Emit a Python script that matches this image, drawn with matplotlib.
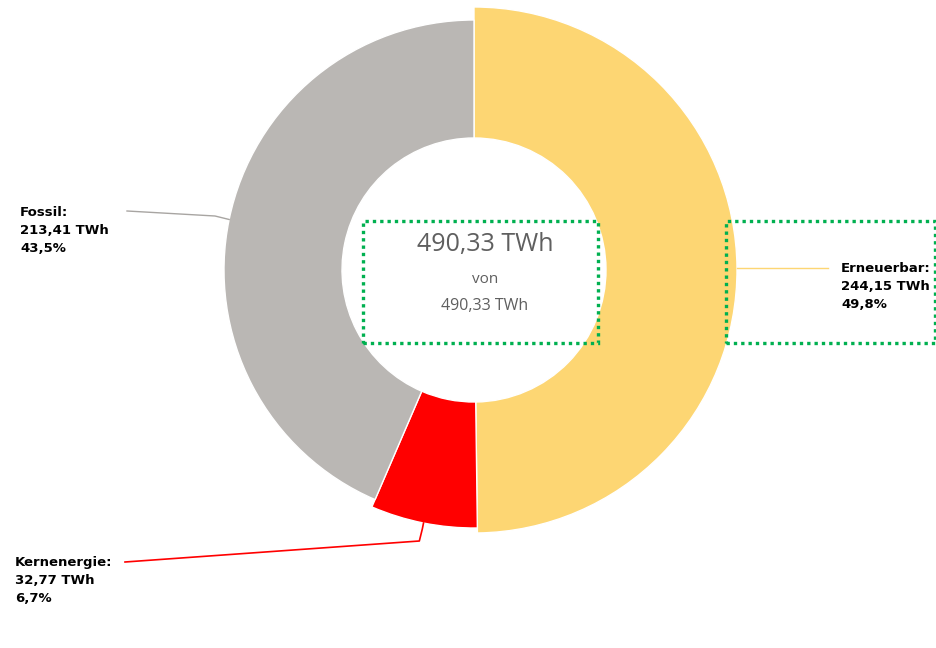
import numpy as np
import matplotlib.pyplot as plt
from matplotlib.patches import Rectangle

# Datos
categorias = ["Erneuerbar", "Kernenergie", "Fossil"]
valores = [244.15, 32.77, 213.41]
colores = ["#FDD673", "#FF0000", "#BAB7B4"]
radios = [263, 258, 250]   # segmento seleccionado mas grande
total = sum(valores)

W, H = 937, 648
fig = plt.figure(figsize=(W / 100, H / 100), dpi=100)
ax = fig.add_axes([0, 0, 1, 1])

cx, cy = 474, H - 270
r_in = 132

wedges, _ = ax.pie(valores, colors=colores, startangle=90, counterclock=False,
                   radius=max(radios), center=(cx, cy), frame=True,
                   wedgeprops=dict(width=max(radios) - r_in, edgecolor="white", linewidth=1))
ax.set_xlim(0, W)
ax.set_ylim(0, H)
ax.set_aspect("equal")
ax.axis("off")
for w, r in zip(wedges, radios):
    w.set_radius(r)
    w.set_width(r - r_in)

def punto(i, r):
    ang = np.deg2rad((wedges[i].theta1 + wedges[i].theta2) / 2)
    return cx + r * np.cos(ang), cy + r * np.sin(ang)

fmt = lambda v: f"{v:,.2f}".replace(",", "X").replace(".", ",").replace("X", ".")
pct = lambda v: f"{v / total * 100:.1f}".replace(".", ",") + "%"

estilo = dict(ha="left", va="top", fontsize=9.5, fontweight="bold", color="black", linespacing=1.5)

# Erneuerbar
x0, y0 = punto(0, radios[0])
ax.plot([x0, 828], [y0, y0], color=colores[0], lw=1)
ax.text(841, H - 262, f"{categorias[0]}:\n{fmt(valores[0])} TWh\n{pct(valores[0])}", **estilo)

# Kernenergie
x0, y0 = punto(1, radios[1])
x1, y1 = punto(1, radios[1] + 6)
ax.plot([x0, x1, x1 - 3, 125], [y0, y1, H - 541, H - 562], color=colores[1], lw=1.2)
ax.text(15, H - 556, f"{categorias[1]}:\n{fmt(valores[1])} TWh\n{pct(valores[1])}", **estilo)

# Fossil
x0, y0 = punto(2, radios[2])
ax.plot([x0, 215, 127], [y0, H - 216, H - 211], color="#A8A5A2", lw=1)
ax.text(20, H - 206, f"{categorias[2]}:\n{fmt(valores[2])} TWh\n{pct(valores[2])}", **estilo)

# Texto central
ax.text(485, H - 245, f"{fmt(total)} TWh", ha="center", va="center",
        fontsize=18, color="#5F5F5F", family="Open Sans")
ax.text(485, H - 280, "von", ha="center", va="center", fontsize=11, color="#5F5F5F", family="Open Sans")
ax.text(485, H - 306, f"{fmt(total)} TWh", ha="center", va="center",
        fontsize=11.5, color="#5F5F5F", family="Open Sans")

# Marcos punteados verdes
for (x, y, w, h) in [(363, 221, 235, 122), (726, 221, 209, 122)]:
    ax.add_patch(Rectangle((x, H - y - h), w, h, fill=False, edgecolor="#00B050",
                           lw=2.4, linestyle=(0, (1, 1.2)), clip_on=False))

fig.savefig("out.png", dpi=100)
